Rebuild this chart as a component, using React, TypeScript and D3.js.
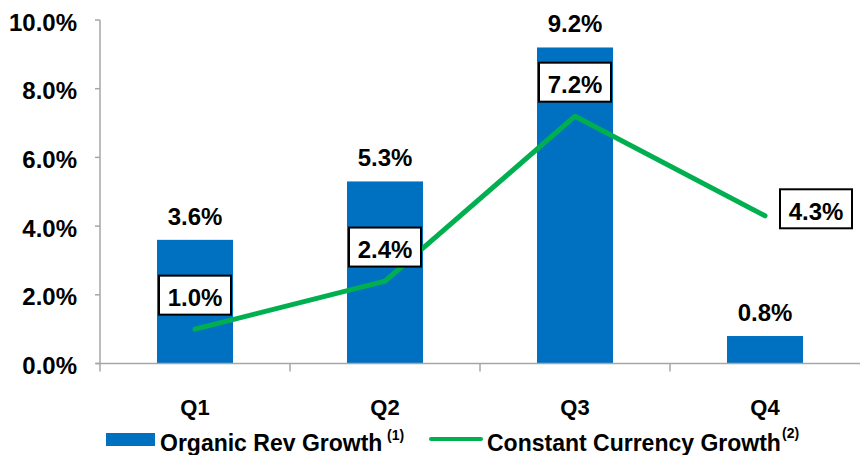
import React from "react";
import * as d3 from "d3";

const categories = ["Q1", "Q2", "Q3", "Q4"];
const organicGrowth = [3.6, 5.3, 9.2, 0.8];
const constantCurrencyGrowth = [1.0, 2.4, 7.2, 4.3];
const yTicks = [0, 2, 4, 6, 8, 10];
const seriesNames = ["Organic Rev Growth", "Constant Currency Growth"];
const seriesNotes = ["(1)", "(2)"];

const W = 860;
const H = 455;
const FONT = "'Liberation Sans', Arial, sans-serif";
const BLUE = "#0070C0";
const GREEN = "#00B050";
const AXIS = "#A6A6A6";

export default function App() {
  const x = d3
    .scaleBand<string>()
    .domain(categories)
    .range([100, 860])
    .paddingInner(0.6)
    .paddingOuter(0.3);
  const y = d3.scaleLinear().domain([0, 10]).range([363.5, 20]);
  const step = x.step();
  const cx = (c: string) => (x(c) as number) + x.bandwidth() / 2;
  const line = d3
    .line<number>()
    .x((_, i) => cx(categories[i]))
    .y((d) => y(d));

  const boxW = 72;
  const boxH = 39;
  // label box centre offsets relative to the line point
  const boxOffset = (i: number) =>
    i === categories.length - 1 ? { dx: 51, dy: -7 } : { dx: 0, dy: -34 };

  return (
    <svg
      width={W}
      height={H}
      style={{ position: "absolute", left: 0, top: 0, background: "#fff" }}
      fontFamily={FONT}
      fontWeight="bold"
    >
      {/* bars */}
      {organicGrowth.map((v, i) => (
        <rect
          key={"b" + i}
          x={x(categories[i])}
          y={y(v)}
          width={x.bandwidth()}
          height={y(0) - y(v)}
          fill={BLUE}
        />
      ))}
      {/* axes */}
      <line x1={100} x2={100} y1={y(10)} y2={y(0)} stroke={AXIS} strokeWidth={1.5} />
      {yTicks.map((t) => (
        <g key={"yt" + t}>
          <line x1={95} x2={100} y1={y(t)} y2={y(t)} stroke={AXIS} strokeWidth={1.5} />
          <text
            x={77}
            y={y(t) + 10.5}
            textAnchor="end"
            fontSize={24}
            fill="#000"
          >
            {t.toFixed(1) + "%"}
          </text>
        </g>
      ))}
      <line x1={96} x2={860} y1={y(0)} y2={y(0)} stroke={AXIS} strokeWidth={1.5} />
      {categories.map((c, i) => (
        <line
          key={"xt" + i}
          x1={(x(c) as number) - step * 0.3}
          x2={(x(c) as number) - step * 0.3}
          y1={y(0)}
          y2={y(0) + 8}
          stroke={AXIS}
          strokeWidth={1.5}
        />
      ))}
      {categories.map((c) => (
        <text key={"xl" + c} x={cx(c)} y={415} textAnchor="middle" fontSize={22} fill="#000">
          {c}
        </text>
      ))}
      {/* bar value labels */}
      {organicGrowth.map((v, i) => (
        <text
          key={"bl" + i}
          x={cx(categories[i])}
          y={y(v) - 15}
          textAnchor="middle"
          fontSize={24}
          fill="#000"
        >
          {v.toFixed(1) + "%"}
        </text>
      ))}
      {/* line */}
      <path
        d={line(constantCurrencyGrowth) as string}
        fill="none"
        stroke={GREEN}
        strokeWidth={5}
        strokeLinecap="round"
        strokeLinejoin="round"
      />
      {constantCurrencyGrowth.map((v, i) => {
        const o = boxOffset(i);
        const bx = cx(categories[i]) + o.dx;
        const by = y(v) + o.dy;
        return (
          <g key={"ll" + i}>
            <rect
              x={bx - boxW / 2}
              y={by - boxH / 2}
              width={boxW}
              height={boxH}
              fill="#fff"
              stroke="#000"
              strokeWidth={2}
            />
            <text x={bx} y={by + 11} textAnchor="middle" fontSize={24} fill="#000">
              {v.toFixed(1) + "%"}
            </text>
          </g>
        );
      })}
      {/* legend */}
      <rect x={106} y={433} width={49} height={13} fill={BLUE} />
      <text x={160} y={451} fontSize={23} fill="#000">
        {seriesNames[0]}
      </text>
      <text x={387} y={440} fontSize={14} fill="#000">
        {seriesNotes[0]}
      </text>
      <line x1={431} x2={481} y1={439} y2={439} stroke={GREEN} strokeWidth={4} strokeLinecap="round" />
      <text x={487} y={451} fontSize={23} fill="#000">
        {seriesNames[1]}
      </text>
      <text x={782} y={438} fontSize={14} fill="#000">
        {seriesNotes[1]}
      </text>
    </svg>
  );
}
